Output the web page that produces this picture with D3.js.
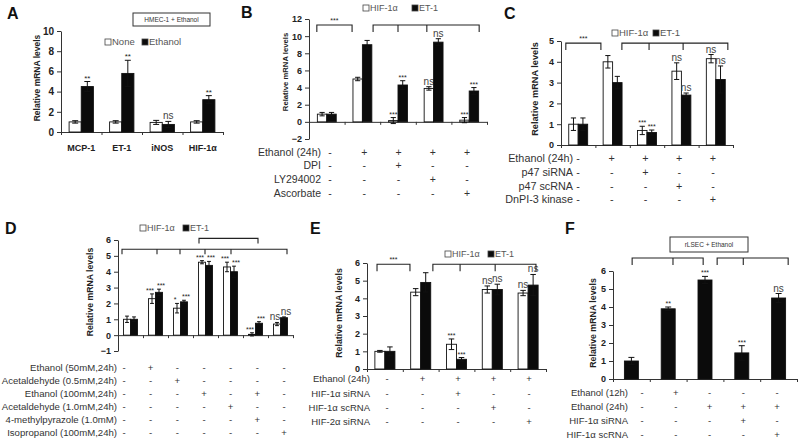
<!DOCTYPE html>
<html><head><meta charset="utf-8">
<script src="https://cdn.jsdelivr.net/npm/d3@7"></script>
<style>
body{margin:0;background:#fff}
svg{display:block}
text{font-family:"Liberation Sans",Arial,sans-serif}
</style>
</head><body>
<svg id="c" width="800" height="445"></svg>
<script>
// ===================== DATA =====================
// Panel A
const aCategories = ["MCP-1","ET-1","iNOS","HIF-1α"];
const aSeriesNames = ["None","Ethanol"];
const aNone = [1.0,1.0,0.95,1.0];
const aNoneErr = [0.12,0.12,0.2,0.12];
const aNoneSig = ["","","",""];
const aEthanol = [4.5,5.8,0.75,3.2];
const aEthanolErr = [0.5,1.3,0.3,0.4];
const aEthanolSig = ["**","**","ns","**"];
const aTicks = [0,2,4,6,8,10];
const aBox = "HMEC-1 + Ethanol";

// Panel B
const bSeriesNames = ["HIF-1α","ET-1"];
const bHIF = [0.9,5.0,0.15,3.9,0.2];
const bHIFErr = [0.2,0.2,0.35,0.2,0.3];
const bHIFSig = ["","","***","ns","***"];
const bET = [0.9,9.0,4.3,9.3,3.6];
const bETErr = [0.2,0.5,0.5,0.4,0.4];
const bETSig = ["","","***","ns","***"];
const bTicks = [-2,0,2,4,6,8,10,12];
const bRows = ["Ethanol (24h)","DPI","LY294002","Ascorbate"];
const bSigns = [["-","+","+","+","+"],["-","-","+","-","-"],["-","-","-","+","-"],["-","-","-","-","+"]];

// Panel C
const cSeriesNames = ["HIF-1α","ET-1"];
const cHIF = [1.0,4.0,0.7,3.55,4.15];
const cHIFErr = [0.3,0.3,0.2,0.4,0.2];
const cHIFSig = ["","","***","ns","ns"];
const cET = [1.0,3.0,0.6,2.4,3.15];
const cETErr = [0.3,0.3,0.12,0.1,0.65];
const cETSig = ["","","***","ns","ns"];
const cTicks = [0,1,2,3,4,5];
const cRows = ["Ethanol (24h)","p47 siRNA","p47 scRNA","DnPI-3 kinase"];
const cSigns = [["-","+","+","+","+"],["-","-","+","-","-"],["-","-","-","+","-"],["-","-","-","-","+"]];

// Panel D
const dSeriesNames = ["HIF-1α","ET-1"];
const dHIF = [1.0,2.3,1.7,4.6,4.3,0.05,0.7];
const dHIFErr = [0.2,0.3,0.3,0.1,0.3,0.1,0.1];
const dHIFSig = ["","***","*","***","***","***","ns"];
const dET = [1.0,2.7,2.1,4.4,4.0,0.75,1.1];
const dETErr = [0.15,0.2,0.1,0.25,0.35,0.1,0.05];
const dETSig = ["","***","***","***","***","***","ns"];
const dTicks = [-1,0,1,2,3,4,5,6];
const dRows = ["Ethanol (50mM,24h)","Acetaldehyde (0.5mM,24h)","Ethanol (100mM,24h)","Acetaldehyde (1.0mM,24h)","4-methylpyrazole (1.0mM)","Isopropanol (100mM,24h)"];
const dSigns = [
  ["-","+","-","-","-","-","-"],
  ["-","-","+","-","-","-","-"],
  ["-","-","-","+","-","+","-"],
  ["-","-","-","-","+","-","-"],
  ["-","-","-","-","-","+","-"],
  ["-","-","-","-","-","-","+"]];

// Panel E
const eSeriesNames = ["HIF-1α","ET-1"];
const eHIF = [1.0,4.35,1.4,4.5,4.3];
const eHIFErr = [0.05,0.2,0.3,0.2,0.15];
const eHIFSig = ["","","***","ns","ns"];
const eET = [1.0,4.9,0.55,4.5,4.75];
const eETErr = [0.25,0.55,0.1,0.3,0.6];
const eETSig = ["","","***","ns","ns"];
const eTicks = [0,1,2,3,4,5,6];
const eRows = ["Ethanol (24h)","HIF-1α siRNA","HIF-1α scRNA","HIF-2α siRNA"];
const eSigns = [["-","+","+","+","+"],["-","-","+","-","-"],["-","-","-","+","-"],["-","-","-","-","+"]];

// Panel F
const fValues = [1.0,3.9,5.5,1.45,4.5];
const fErr = [0.2,0.1,0.2,0.4,0.25];
const fSig = ["","**","***","***","ns"];
const fTicks = [0,1,2,3,4,5,6];
const fRows = ["Ethanol (12h)","Ethanol (24h)","HIF-1α siRNA","HIF-1α scRNA"];
const fSigns = [["-","+","-","-","-"],["-","-","+","+","+"],["-","-","-","+","-"],["-","-","-","-","+"]];
const fBox = "rLSEC + Ethanol";

// Brackets (positions in category units; 0 = centre of first group)
const bBrackets = [{y:11.3, pts:[-0.28,0.71], label:"***"},{y:11.3, pts:[1.3,2.0,2.81,4.28], label:""}];
const cBrackets = [{y:4.9, pts:[-0.36,0.66], label:"***"},{y:4.9, pts:[1.27,2.06,3.05,4.35], label:""}];
const dBrackets = [{y:5.42, pts:[-0.34,1.06,1.98,2.98,4.02,6.26], label:"", drop:5},{y:6.1, pts:[2.74,5.1], label:"", drop:5}];
const eBrackets = [{y:5.93, pts:[-0.22,0.7], label:"***"},{y:5.93, pts:[1.34,2.1,3.08,4.22], label:""}];
const fBrackets = [{y:6.72, pts:[0.02,1.13,1.95], label:""},{y:6.72, pts:[2.33,3.04,4.26], label:""}];

// ===================== DRAWING =====================
const svg = d3.select("#c");
const FONT = '"Liberation Sans",Arial,sans-serif';

function drawPanel(L, P){
  const g = svg.append("g");
  const n = P.cats.length;
  const x = d3.scaleBand().domain(P.cats).range(L.x).paddingInner(L.pad).paddingOuter(L.pad/2);
  const y = d3.scaleLinear().domain(L.domain).range(L.y);
  const step = x.step();
  const pos = p => L.x[0] + (p + 0.5) * step;
  const xs = d3.scaleBand().domain(d3.range(P.series.length)).range([0, x.bandwidth()]);

  // panel letter
  g.append("text").attr("x",L.letter[1]).attr("y",L.letter[2]).text(L.letter[0])
    .attr("font-size",16).attr("font-weight","bold").attr("fill","#111");

  // y axis
  g.append("g").attr("transform",`translate(${L.x[0]},0)`)
    .call(d3.axisLeft(y).tickValues(P.ticks).tickFormat(d3.format("d")).tickSize(4).tickSizeOuter(0).tickPadding(3))
    .call(a=>{
      a.selectAll("text").attr("font-size",L.tickFont).attr("font-weight","bold").attr("fill","#222").attr("font-family",FONT);
      a.selectAll("line,path").attr("stroke","#333");
    });
  // x axis at zero
  const xl = d3.scaleLinear().domain([0,n]).range(L.x);
  g.append("g").attr("transform",`translate(0,${y(0)})`)
    .call(d3.axisBottom(xl).tickValues(d3.range(n+1)).tickSize(3).tickSizeOuter(0).tickFormat(""))
    .call(a=>a.selectAll("line,path").attr("stroke","#333"));

  // y title
  g.append("text").attr("transform",`translate(${L.title[0]},${L.title[1]}) rotate(-90)`)
    .attr("text-anchor","middle").attr("dy","0.35em").attr("font-size",L.titleFont).attr("font-weight","bold")
    .attr("fill","#222").text("Relative mRNA levels");

  // bars
  P.series.forEach((s,si)=>{
    const rows = P.cats.map((c,i)=>({c, v:s.values[i], e:s.errs[i], sig:s.sigs[i]}));
    const bx = d => x(d.c) + xs(si);
    const bw = xs.bandwidth();
    g.append("g").selectAll("rect").data(rows).join("rect")
      .attr("x",bx).attr("width",bw)
      .attr("y",d=>y(Math.max(0,d.v))).attr("height",d=>Math.abs(y(d.v)-y(0)))
      .attr("fill",s.fill).attr("stroke","#111").attr("stroke-width",0.9);
    const cap = Math.min(bw*0.55, 6)/2;
    const eg = g.append("g").attr("stroke","#111").attr("stroke-width",1);
    rows.forEach(d=>{
      const cx = bx(d)+bw/2;
      eg.append("line").attr("x1",cx).attr("x2",cx).attr("y1",y(d.v-d.e)).attr("y2",y(d.v+d.e));
      eg.append("line").attr("x1",cx-cap).attr("x2",cx+cap).attr("y1",y(d.v+d.e)).attr("y2",y(d.v+d.e));
      eg.append("line").attr("x1",cx-cap).attr("x2",cx+cap).attr("y1",y(d.v-d.e)).attr("y2",y(d.v-d.e));
      if(d.sig){
        const ns = d.sig==="ns";
        const shift = (L.sigShift||[0,0])[si];
        g.append("text").attr("x",cx+shift).attr("y",y(d.v+d.e)-(ns?2:1)).attr("text-anchor","middle")
          .attr("font-size",ns?L.nsFont:L.starFont).attr("fill",ns?"#444":"#222").text(d.sig);
      }
    });
  });

  // brackets
  (P.brackets||[]).forEach(b=>{
    const by = y(b.y), drop = b.drop||7;
    const xsb = b.pts.map(pos);
    g.append("path").attr("fill","none").attr("stroke","#222").attr("stroke-width",1.1)
      .attr("d",`M${xsb[0]},${by+drop}V${by}H${xsb[xsb.length-1]}V${by+drop}`);
    xsb.slice(1,-1).forEach(px=>g.append("line").attr("x1",px).attr("x2",px).attr("y1",by).attr("y2",by+drop)
      .attr("stroke","#222").attr("stroke-width",1.1));
    if(b.label) g.append("text").attr("x",(xsb[0]+xsb[xsb.length-1])/2).attr("y",by-2)
      .attr("text-anchor","middle").attr("font-size",L.starFont).attr("fill","#222").text(b.label);
  });

  // legend
  if(L.legend){
    P.series.forEach((s,si)=>{
      const lx = L.legend.xs[si], ly = L.legend.y;
      g.append("rect").attr("x",lx).attr("y",ly-3).attr("width",6).attr("height",6)
        .attr("fill",s.fill).attr("stroke","#444").attr("stroke-width",0.8);
      g.append("text").attr("x",lx+7).attr("y",ly).attr("dy","0.35em").attr("font-size",L.legend.font)
        .attr("fill","#555").text(s.name);
    });
  }

  // category labels (panel A)
  if(L.catLabels){
    g.append("g").selectAll("text").data(P.cats).join("text")
      .attr("x",d=>x(d)+x.bandwidth()/2).attr("y",L.catLabels.y).attr("text-anchor","middle")
      .attr("font-size",L.catLabels.font).attr("font-weight","bold").attr("fill","#222").text(d=>d);
  }

  // condition table
  if(L.table){
    const tx = d3.scalePoint().domain(d3.range(n)).range(L.table.cols);
    P.rows.forEach((r,ri)=>{
      const ry = L.table.rows[ri];
      g.append("text").attr("x",L.table.labelX).attr("y",ry).attr("dy","0.35em").attr("text-anchor","end")
        .attr("font-size",L.table.font).attr("fill","#333").text(r);
      g.append("g").selectAll("text").data(P.signs[ri]).join("text")
        .attr("x",(d,i)=>tx(i)).attr("y",ry).attr("dy","0.35em").attr("text-anchor","middle")
        .attr("font-size",L.table.font).attr("fill","#333").text(d=>d);
    });
  }

  // boxed caption
  if(L.box){
    const [bx0,by0,bx1,by1] = L.box.r;
    g.append("rect").attr("x",bx0).attr("y",by0).attr("width",bx1-bx0).attr("height",by1-by0)
      .attr("fill","#fff").attr("stroke","#333").attr("stroke-width",1);
    g.append("text").attr("x",(bx0+bx1)/2).attr("y",(by0+by1)/2).attr("dy","0.35em").attr("text-anchor","middle")
      .attr("font-size",L.box.font).attr("fill","#333").text(P.box);
  }
}

const WHITE = "#fff", BLACK = "#0b0b0b";
const catIdx = k => d3.range(k).map(i=>"c"+i);

// Panel A
drawPanel(
  {x:[61,223], y:[132,31], domain:[0,10], pad:0.4, letter:["A",7,19], tickFont:10, titleFont:8.5, title:[37,78],
   starFont:8, nsFont:10, legend:{xs:[105,142], y:42, font:9.5}, catLabels:{y:151, font:9},
   box:{r:[133,13,210,26], font:6.5}},
  {cats:aCategories, ticks:aTicks, box:aBox,
   series:[{name:aSeriesNames[0], values:aNone, errs:aNoneErr, sigs:aNoneSig, fill:WHITE},
           {name:aSeriesNames[1], values:aEthanol, errs:aEthanolErr, sigs:aEthanolSig, fill:BLACK}]});

// Panel B
drawPanel(
  {x:[309,487], y:[139,19], domain:[-2,12], pad:0.47, letter:["B",241,18], tickFont:9, titleFont:7.7, title:[285,72],
   starFont:7, nsFont:10, legend:{xs:[363,412], y:8, font:9},
   table:{labelX:321, rows:[152,165,179,193], cols:[330,467], font:10.5}},
  {cats:catIdx(5), ticks:bTicks, rows:bRows, signs:bSigns, brackets:bBrackets,
   series:[{name:bSeriesNames[0], values:bHIF, errs:bHIFErr, sigs:bHIFSig, fill:WHITE},
           {name:bSeriesNames[1], values:bET, errs:bETErr, sigs:bETSig, fill:BLACK}]});

// Panel C
drawPanel(
  {x:[561,733], y:[145,41], domain:[0,5], pad:0.45, letter:["C",504,19], tickFont:9, titleFont:9.2, title:[535,89],
   starFont:7, nsFont:10, legend:{xs:[612,653], y:33, font:9.5},
   table:{labelX:573, rows:[158,172,186,199], cols:[578,713], font:10.8}},
  {cats:catIdx(5), ticks:cTicks, rows:cRows, signs:cSigns, brackets:cBrackets,
   series:[{name:cSeriesNames[0], values:cHIF, errs:cHIFErr, sigs:cHIFSig, fill:WHITE},
           {name:cSeriesNames[1], values:cET, errs:cETErr, sigs:cETSig, fill:BLACK}]});

// Panel D
drawPanel(
  {x:[118,293], y:[351,240], domain:[-1,6], pad:0.44, letter:["D",5,234], tickFont:9, titleFont:8.7, title:[90,292],
   starFont:7, nsFont:10, sigShift:[-2,2], legend:{xs:[140,183], y:228, font:9},
   table:{labelX:117, rows:[368,381,394,407,420,433], cols:[124,284], font:9.6}},
  {cats:catIdx(7), ticks:dTicks, rows:dRows, signs:dSigns, brackets:dBrackets,
   series:[{name:dSeriesNames[0], values:dHIF, errs:dHIFErr, sigs:dHIFSig, fill:WHITE},
           {name:dSeriesNames[1], values:dET, errs:dETErr, sigs:dETSig, fill:BLACK}]});

// Panel E
drawPanel(
  {x:[367,546], y:[369,263], domain:[0,6], pad:0.44, letter:["E",310,234], tickFont:9, titleFont:8.8, title:[339,313],
   starFont:7, nsFont:10, legend:{xs:[445,488], y:254, font:9},
   table:{labelX:370, rows:[379,394,408,422], cols:[387,529], font:9.5}},
  {cats:catIdx(5), ticks:eTicks, rows:eRows, signs:eSigns, brackets:eBrackets,
   series:[{name:eSeriesNames[0], values:eHIF, errs:eHIFErr, sigs:eHIFSig, fill:WHITE},
           {name:eSeriesNames[1], values:eET, errs:eETErr, sigs:eETSig, fill:BLACK}]});

// Panel F
drawPanel(
  {x:[613,797], y:[379,271], domain:[0,6], pad:0.62, letter:["F",565,234], tickFont:9, titleFont:8.8, title:[593,323],
   starFont:7, nsFont:10,
   table:{labelX:628, rows:[393,407,421,435], cols:[642,777], font:9.5},
   box:{r:[670,237,748,252], font:6.5}},
  {cats:catIdx(5), ticks:fTicks, rows:fRows, signs:fSigns, brackets:fBrackets, box:fBox,
   series:[{name:"ET-1", values:fValues, errs:fErr, sigs:fSig, fill:BLACK}]});
</script>
</body></html>
